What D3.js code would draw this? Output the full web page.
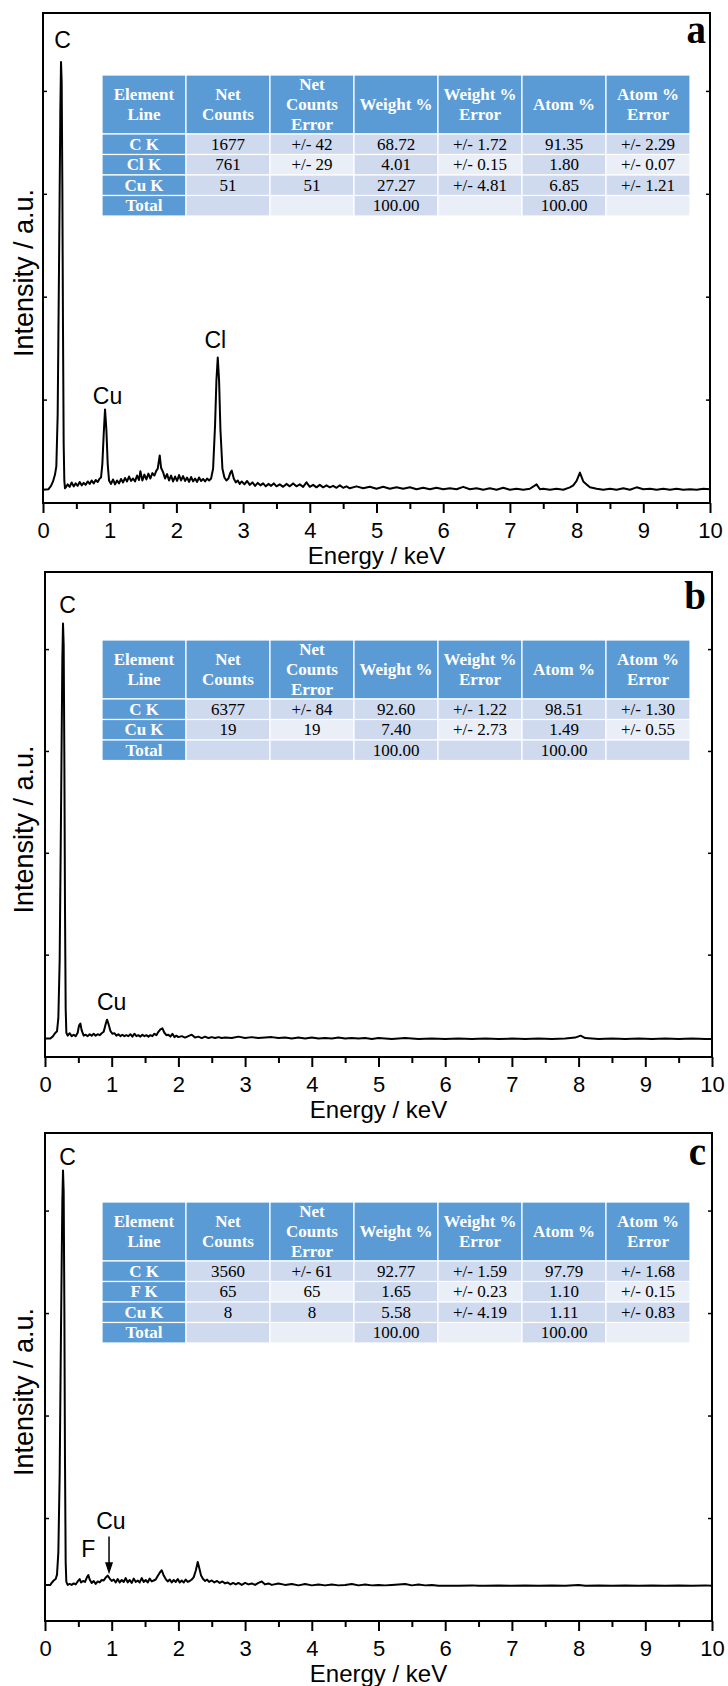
<!DOCTYPE html>
<html>
<head>
<meta charset="utf-8">
<script src="https://cdn.jsdelivr.net/npm/d3@7"></script>
<style>
  body { margin: 0; background: #fff; }
  svg { display: block; }
</style>
</head>
<body>
<script>
// ---- data ----
const xMajorTicks = [0, 1, 2, 3, 4, 5, 6, 7, 8, 9, 10]
const xMinorTicks = [0.5, 1.5, 2.5, 3.5, 4.5, 5.5, 6.5, 7.5, 8.5, 9.5]
const yTicks = [21, 42, 63, 84]

const headers = [["Element", "Line"], ["Net", "Counts"], ["Net", "Counts", "Error"], ["Weight %"],
                 ["Weight %", "Error"], ["Atom %"], ["Atom %", "Error"]]

const rowsA = [["C K", "1677", "+/- 42", "68.72", "+/- 1.72", "91.35", "+/- 2.29"],
               ["Cl K", "761", "+/- 29", "4.01", "+/- 0.15", "1.80", "+/- 0.07"],
               ["Cu K", "51", "51", "27.27", "+/- 4.81", "6.85", "+/- 1.21"],
               ["Total", "", "", "100.00", "", "100.00", ""]]
const rowsB = [["C K", "6377", "+/- 84", "92.60", "+/- 1.22", "98.51", "+/- 1.30"],
               ["Cu K", "19", "19", "7.40", "+/- 2.73", "1.49", "+/- 0.55"],
               ["Total", "", "", "100.00", "", "100.00", ""]]
const rowsC = [["C K", "3560", "+/- 61", "92.77", "+/- 1.59", "97.79", "+/- 1.68"],
               ["F K", "65", "65", "1.65", "+/- 0.23", "1.10", "+/- 0.15"],
               ["Cu K", "8", "8", "5.58", "+/- 4.19", "1.11", "+/- 0.83"],
               ["Total", "", "", "100.00", "", "100.00", ""]]

// spectra: [energy keV, intensity a.u.]
const specA = [[0,2.7],[0.08,2.8],[0.12,3.5],[0.15,4.4],[0.18,5.8],[0.2,7.5],[0.22,18],[0.24,48],[0.26,80],[0.27,90],
  [0.28,86],[0.29,65],[0.3,35],[0.31,12],[0.32,4.5],[0.33,3.0],[0.34,3.2],[0.37,3.8],[0.4,3.3],[0.43,4.2],[0.46,3.4],
  [0.49,4.0],[0.52,3.5],[0.55,4.3],[0.58,3.6],[0.61,4.1],[0.64,3.7],[0.67,4.4],[0.7,3.9],[0.73,4.6],[0.76,4.0],
  [0.79,4.7],[0.82,4.3],[0.85,5.0],[0.87,5.2],[0.89,8],[0.91,14],[0.93,19.1],[0.95,15],[0.97,8],[0.99,4.6],
  [1.02,3.9],[1.05,4.8],[1.08,3.8],[1.11,4.6],[1.14,4.0],[1.17,4.9],[1.2,4.2],[1.23,5.1],[1.26,4.4],[1.29,5.4],
  [1.32,4.5],[1.35,5.0],[1.38,4.4],[1.41,5.6],[1.44,4.7],[1.46,6.5],[1.49,4.6],[1.52,5.8],[1.55,4.8],[1.58,6.0],
  [1.61,5.0],[1.64,6.1],[1.67,5.6],[1.7,6.6],[1.72,7.0],[1.75,9.7],[1.77,7.2],[1.8,6.3],[1.83,5.0],[1.86,5.9],
  [1.89,4.6],[1.92,5.6],[1.95,4.4],[1.98,5.4],[2.01,4.5],[2.04,5.7],[2.07,4.6],[2.1,5.5],[2.13,4.5],[2.16,5.2],
  [2.19,4.3],[2.22,5.3],[2.25,4.4],[2.28,5.0],[2.31,4.3],[2.34,5.2],[2.37,4.5],[2.4,4.9],[2.43,4.4],[2.46,5.0],
  [2.49,4.6],[2.52,5.0],[2.55,7],[2.58,16],[2.6,25],[2.62,29.7],[2.64,25],[2.66,15],[2.69,7],[2.72,5.2],[2.75,4.6],
  [2.78,5.0],[2.81,6.2],[2.83,6.6],[2.86,5.0],[2.89,4.2],[2.92,4.6],[2.95,3.9],[2.98,4.4],[3.02,3.8],[3.06,4.5],
  [3.1,3.7],[3.14,4.2],[3.18,3.5],[3.22,4.1],[3.26,3.6],[3.3,4.0],[3.34,3.4],[3.38,3.9],[3.42,3.5],[3.46,4.0],
  [3.5,3.4],[3.55,3.8],[3.6,3.3],[3.65,3.9],[3.7,3.4],[3.75,4.0],[3.8,3.4],[3.85,3.8],[3.9,3.3],[3.95,4.2],
  [4.0,3.3],[4.05,3.7],[4.1,3.2],[4.15,3.7],[4.2,3.2],[4.25,3.6],[4.3,3.2],[4.35,3.5],[4.4,3.1],[4.45,3.6],
  [4.5,3.1],[4.55,3.4],[4.6,3.0],[4.7,3.4],[4.8,3.0],[4.9,3.3],[5.0,2.9],[5.1,3.3],[5.2,2.9],[5.3,3.2],[5.4,2.9],
  [5.5,3.2],[5.6,2.8],[5.7,3.1],[5.8,2.8],[5.9,3.1],[6.0,2.8],[6.1,3.0],[6.2,2.8],[6.3,3.3],[6.4,2.8],[6.5,3.0],
  [6.6,2.7],[6.7,3.0],[6.8,2.7],[6.9,3.1],[7.0,2.7],[7.1,2.9],[7.2,2.7],[7.3,2.9],[7.4,3.8],[7.45,2.8],[7.5,2.9],
  [7.6,2.7],[7.7,2.9],[7.8,2.7],[7.9,3.2],[7.95,3.6],[8.0,4.5],[8.05,6.2],[8.1,4.4],[8.15,3.8],[8.2,3.2],[8.3,2.9],
  [8.4,2.7],[8.5,2.9],[8.6,2.7],[8.7,3.0],[8.8,2.7],[8.9,3.2],[9.0,2.8],[9.1,2.9],[9.2,2.7],[9.3,2.9],[9.4,2.7],
  [9.5,2.9],[9.6,2.7],[9.7,2.8],[9.8,2.7],[9.9,2.9],[10.0,2.8]]

const specB = [[0,3.8],[0.08,3.8],[0.12,4.3],[0.15,4.9],[0.18,5.3],[0.2,8],[0.22,20],[0.24,50],[0.26,82],[0.27,89.4],
  [0.28,85],[0.29,62],[0.3,30],[0.31,10],[0.32,5],[0.34,4.4],[0.37,4.9],[0.4,4.3],[0.43,4.6],[0.46,4.3],[0.49,5.0],
  [0.51,6.5],[0.53,6.9],[0.55,5.5],[0.58,4.4],[0.61,4.6],[0.64,4.3],[0.67,4.7],[0.7,4.4],[0.73,4.8],[0.76,4.4],
  [0.79,4.7],[0.82,4.5],[0.85,4.9],[0.88,5.2],[0.91,6.8],[0.93,7.7],[0.95,6.9],[0.98,5.4],[1.01,4.8],[1.04,4.9],
  [1.07,4.4],[1.1,4.7],[1.13,4.3],[1.16,4.6],[1.19,4.3],[1.22,4.5],[1.25,4.3],[1.28,4.7],[1.31,4.2],[1.34,4.8],
  [1.37,4.3],[1.4,4.5],[1.43,4.2],[1.46,4.6],[1.49,4.3],[1.52,4.5],[1.55,4.2],[1.58,4.5],[1.61,4.3],[1.64,4.8],
  [1.67,4.5],[1.7,5.2],[1.73,5.7],[1.76,5.9],[1.79,5.0],[1.82,4.5],[1.85,4.6],[1.88,4.2],[1.91,4.8],[1.94,4.1],
  [1.97,4.4],[2.0,4.1],[2.05,4.3],[2.1,4.0],[2.15,4.3],[2.2,4.6],[2.25,4.0],[2.3,4.2],[2.35,3.9],[2.4,4.2],
  [2.45,3.9],[2.5,4.1],[2.55,3.9],[2.6,4.1],[2.65,3.9],[2.7,4.0],[2.8,3.9],[2.9,4.2],[3.0,3.9],[3.1,4.1],[3.2,3.9],
  [3.3,4.0],[3.4,4.1],[3.5,3.9],[3.6,4.0],[3.7,3.8],[3.8,4.0],[3.9,3.8],[4.0,4.0],[4.1,3.8],[4.2,3.9],[4.3,3.8],
  [4.4,4.0],[4.5,3.8],[4.6,3.9],[4.7,3.8],[4.8,3.9],[4.9,3.7],[5.0,3.9],[5.2,3.7],[5.4,3.9],[5.6,3.7],[5.8,3.8],
  [6.0,3.7],[6.2,3.8],[6.4,3.7],[6.6,3.8],[6.8,3.7],[7.0,3.8],[7.2,3.7],[7.4,3.8],[7.6,3.7],[7.8,3.8],[7.95,4.0],
  [8.03,4.4],[8.1,3.9],[8.3,3.7],[8.5,3.8],[8.7,3.7],[8.9,3.8],[9.1,3.7],[9.3,3.8],[9.5,3.7],[9.7,3.8],[9.9,3.7],
  [10.0,3.7]]

const specC = [[0,7.4],[0.08,7.4],[0.1,7.8],[0.13,8.3],[0.16,8.6],[0.18,9.5],[0.2,14],[0.22,30],[0.24,60],[0.26,86],
  [0.27,92.3],[0.28,88],[0.29,65],[0.3,32],[0.31,12],[0.32,8],[0.34,7.4],[0.37,7.6],[0.4,7.4],[0.43,7.7],[0.46,7.5],
  [0.49,8.1],[0.52,8.6],[0.54,7.9],[0.57,8.2],[0.6,8.0],[0.63,9.0],[0.65,9.4],[0.67,8.5],[0.7,7.8],[0.73,8.2],
  [0.76,7.6],[0.79,8.1],[0.82,7.9],[0.85,8.4],[0.88,8.3],[0.91,8.9],[0.94,9.3],[0.97,8.7],[1.0,8.2],[1.03,8.5],
  [1.06,7.9],[1.09,8.6],[1.12,7.9],[1.15,8.4],[1.18,8.0],[1.21,8.8],[1.24,7.9],[1.27,8.4],[1.3,7.8],[1.33,8.7],
  [1.36,8.0],[1.39,8.3],[1.42,7.9],[1.45,8.8],[1.48,8.0],[1.51,8.4],[1.54,7.9],[1.57,8.7],[1.6,8.1],[1.63,8.3],
  [1.66,8.5],[1.69,9.2],[1.72,9.9],[1.75,10.4],[1.78,9.3],[1.81,8.6],[1.84,8.1],[1.87,8.5],[1.9,7.9],[1.93,8.4],
  [1.96,8.0],[1.99,8.6],[2.02,7.9],[2.05,8.3],[2.08,7.9],[2.11,8.5],[2.14,8.0],[2.17,8.2],[2.2,8.5],[2.23,9.0],
  [2.26,10.3],[2.29,12.1],[2.31,11.0],[2.34,9.3],[2.37,8.6],[2.4,8.2],[2.43,8.5],[2.46,8.0],[2.5,8.3],[2.54,7.9],
  [2.58,8.2],[2.62,7.8],[2.66,8.1],[2.7,7.7],[2.74,7.9],[2.78,7.5],[2.82,7.8],[2.86,7.5],[2.9,7.8],[2.95,7.4],
  [3.0,7.8],[3.05,7.5],[3.1,7.7],[3.15,7.4],[3.2,7.8],[3.25,8.1],[3.3,7.5],[3.35,7.7],[3.4,7.4],[3.5,7.7],[3.6,7.4],
  [3.7,7.6],[3.8,7.3],[3.9,7.6],[4.0,7.3],[4.1,7.5],[4.2,7.3],[4.3,7.5],[4.4,7.3],[4.5,7.4],[4.6,7.6],[4.7,7.3],
  [4.8,7.5],[4.9,7.3],[5.0,7.4],[5.1,7.3],[5.2,7.4],[5.3,7.5],[5.4,7.6],[5.5,7.3],[5.6,7.5],[5.7,7.3],[5.8,7.4],
  [5.9,7.2],[6.0,7.2],[6.2,7.2],[6.4,7.3],[6.5,7.2],[6.6,7.2],[6.8,7.3],[7.0,7.2],[7.2,7.3],[7.4,7.2],[7.6,7.3],
  [7.8,7.2],[8.0,7.4],[8.1,7.2],[8.3,7.3],[8.5,7.2],[8.7,7.3],[8.9,7.2],[9.1,7.3],[9.3,7.2],[9.5,7.3],[9.7,7.2],
  [9.9,7.3],[10.0,7.2]]

// peak labels: text, energy, intensity (baseline)
const labelsA = [["C", 0.295, 92.8], ["Cu", 0.967, 20.3], ["Cl", 2.583, 31.6]]
const labelsB = [["C", 0.34, 91.5], ["Cu", 1.0, 9.7]]
const labelsC = [["C", 0.34, 93.4], ["F", 0.649, 13.2], ["Cu", 0.987, 18.8]]
const arrowsC = [[0.96, 17.3, 9.6]]

// ---- layout ----
const W = 728, H = 1686
const blue = "#5b9bd5", bandDark = "#cfdaee", bandLight = "#e9eef7"
const sans = "'Liberation Sans', Arial, sans-serif"
const serif = "'Liberation Serif', 'Times New Roman', serif"

const panels = [
  {letter: 'a', spec: specA, rows: rowsA, labels: labelsA, arrows: [],
   top: 13, bottom: 503, left: 43, right: 710, tableTop: 75, letterY: 43},
  {letter: 'b', spec: specB, rows: rowsB, labels: labelsB, arrows: [],
   top: 572, bottom: 1057, left: 45, right: 712, tableTop: 640, letterY: 609},
  {letter: 'c', spec: specC, rows: rowsC, labels: labelsC, arrows: arrowsC,
   top: 1133, bottom: 1621, left: 45, right: 712, tableTop: 1202, letterY: 1165}
]

const svg = d3.select("body").append("svg")
    .attr("width", W)
    .attr("height", H)

panels.forEach(function(p) {
    var g = svg.append("g").attr("id", "panel-" + p.letter)

    var x = d3.scaleLinear().domain([0, 10]).range([p.left, p.right])
    var y = d3.scaleLinear().domain([0, 100]).range([p.bottom, p.top])

    // frame
    g.append("rect")
        .attr("x", p.left).attr("y", p.top)
        .attr("width", p.right - p.left).attr("height", p.bottom - p.top)
        .attr("fill", "none").attr("stroke", "#000").attr("stroke-width", 2)

    // y ticks (unlabelled, inward, both sides)
    yTicks.forEach(function(t) {
        g.append("line").attr("x1", p.left).attr("x2", p.left + 4)
            .attr("y1", y(t)).attr("y2", y(t)).attr("stroke", "#000").attr("stroke-width", 1.5)
        g.append("line").attr("x1", p.right).attr("x2", p.right - 4)
            .attr("y1", y(t)).attr("y2", y(t)).attr("stroke", "#000").attr("stroke-width", 1.5)
    })

    // x axis
    var xa = g.append("g")
        .attr("transform", "translate(0," + p.bottom + ")")
        .call(d3.axisBottom(x).tickValues(xMajorTicks).tickSize(10).tickPadding(9).tickFormat(d3.format("d")))
    xa.select(".domain").remove()
    xa.selectAll("line").attr("stroke-width", 2)
    xa.selectAll("text").attr("font-family", sans).attr("font-size", "22px").attr("fill", "#000")

    var xm = g.append("g")
        .attr("transform", "translate(0," + p.bottom + ")")
        .call(d3.axisBottom(x).tickValues(xMinorTicks).tickSize(6).tickFormat(""))
    xm.select(".domain").remove()
    xm.selectAll("line").attr("stroke-width", 2)

    g.append("text")
        .attr("x", (p.left + p.right) / 2).attr("y", p.bottom + 60.5)
        .attr("text-anchor", "middle")
        .attr("font-family", sans).attr("font-size", "24px")
        .text("Energy / keV")

    g.append("text")
        .attr("transform", "translate(33," + ((p.top + p.bottom) / 2 + 15) + ") rotate(-90)")
        .attr("text-anchor", "middle")
        .attr("font-family", sans).attr("font-size", "27px")
        .text("Intensity / a.u.")

    // spectrum
    g.append("path")
        .datum(p.spec)
        .attr("fill", "none").attr("stroke", "#000").attr("stroke-width", 2)
        .attr("stroke-linejoin", "round")
        .attr("d", d3.line().x(function(d) { return x(d[0]) }).y(function(d) { return y(d[1]) }))

    // peak labels
    p.labels.forEach(function(l) {
        g.append("text")
            .attr("x", x(l[1])).attr("y", y(l[2]))
            .attr("text-anchor", "middle")
            .attr("font-family", sans).attr("font-size", "23px")
            .text(l[0])
    })
    p.arrows.forEach(function(a) {
        var ax = x(a[0]), y1 = y(a[1]), y2 = y(a[2])
        g.append("line").attr("x1", ax).attr("x2", ax).attr("y1", y1).attr("y2", y2 - 10)
            .attr("stroke", "#000").attr("stroke-width", 1.5)
        g.append("path")
            .attr("d", "M" + (ax - 4) + "," + (y2 - 12) + "L" + (ax + 4) + "," + (y2 - 12) + "L" + ax + "," + y2 + "Z")
            .attr("fill", "#000")
    })

    // panel letter
    g.append("text")
        .attr("x", 706).attr("y", p.letterY)
        .attr("text-anchor", "end")
        .attr("font-family", serif).attr("font-weight", "bold").attr("font-size", "39px")
        .text(p.letter)

    // table
    var colW = 84, headH = 59, rowH = 20.5, tx = 102, ty = p.tableTop
    var tbl = g.append("g").attr("class", "table")
    headers.forEach(function(h, i) {
        tbl.append("rect")
            .attr("x", tx + i * colW).attr("y", ty).attr("width", colW).attr("height", headH)
            .attr("fill", blue).attr("stroke", "#fff").attr("stroke-width", 1.2)
        h.forEach(function(line, j) {
            tbl.append("text")
                .attr("x", tx + i * colW + colW / 2)
                .attr("y", ty + headH / 2 + (j - (h.length - 1) / 2) * 20 + 5.5)
                .attr("text-anchor", "middle")
                .attr("font-family", serif).attr("font-weight", "bold").attr("font-size", "17px")
                .attr("fill", "#fff")
                .text(line)
        })
    })
    p.rows.forEach(function(row, r) {
        var ry = ty + headH + r * rowH
        row.forEach(function(val, c) {
            var fill = c === 0 ? blue : ((r % 2 === 0 || c % 2 === 1) ? bandDark : bandLight)
            tbl.append("rect")
                .attr("x", tx + c * colW).attr("y", ry).attr("width", colW).attr("height", rowH)
                .attr("fill", fill).attr("stroke", "#fff").attr("stroke-width", 1.2)
            tbl.append("text")
                .attr("x", tx + c * colW + colW / 2).attr("y", ry + rowH / 2 + 5.5)
                .attr("text-anchor", "middle")
                .attr("font-family", serif).attr("font-size", "17px")
                .attr("font-weight", c === 0 ? "bold" : "normal")
                .attr("fill", c === 0 ? "#fff" : "#000")
                .text(val)
        })
    })
})
</script>
</body>
</html>
